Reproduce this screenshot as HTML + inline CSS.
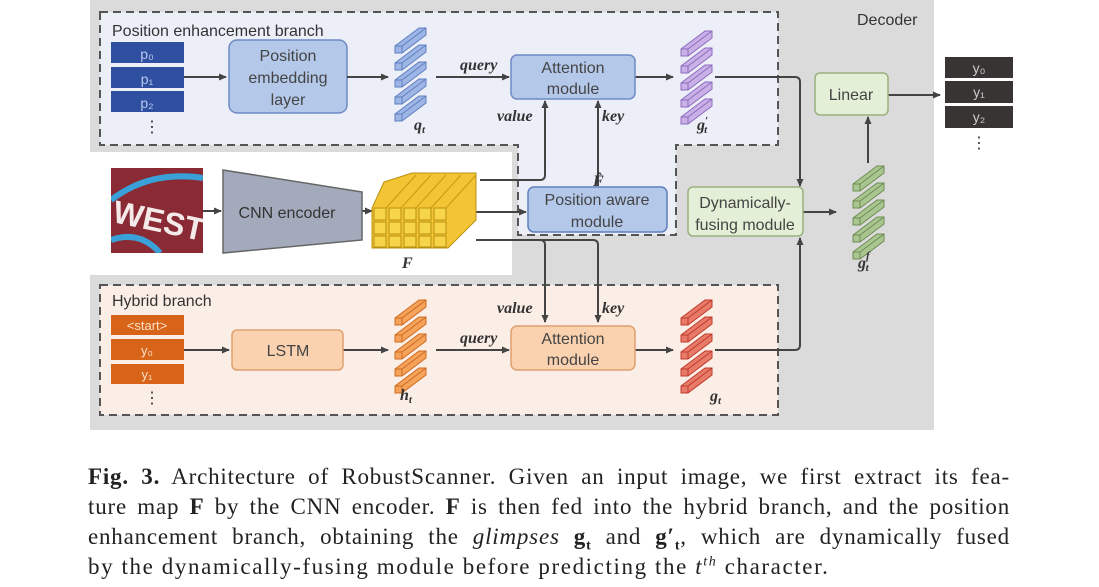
<!DOCTYPE html>
<html><head><meta charset="utf-8"><style>
body{margin:0;width:1099px;height:587px;background:#fff;overflow:hidden;position:relative;font-family:"Liberation Sans",sans-serif}
.cap{position:absolute;left:88px;width:922px;font-family:"Liberation Serif",serif;font-size:23px;letter-spacing:0.8px;line-height:30px;height:30px;color:#222;text-align:justify;text-align-last:justify;white-space:nowrap}
.cap.l{text-align-last:left;letter-spacing:1.6px}
sub,sup{font-size:14px;line-height:0}
</style></head><body>
<svg width="1099" height="587" style="position:absolute;left:0;top:0" font-family="Liberation Sans, sans-serif">
<defs>
<marker id="a" markerWidth="8" markerHeight="8" refX="7" refY="4" orient="auto" markerUnits="userSpaceOnUse"><path d="M0,0.5 L8,4 L0,7.5 Z" fill="#444"/></marker>
<g id="bar"><path d="M0,6 L24,-12 L31,-12 L31,-5 L7,13 L0,13 Z" /><path d="M0,6 L7,6 L7,13" fill="none"/><path d="M7,6 L31,-12" fill="none"/></g>
</defs>
<rect x="90" y="0" width="844" height="430" fill="#dcdbdc"/>
<rect x="90" y="152" width="422" height="123" fill="#fff"/>
<path d="M100,12 H778 V145 H676 V235 H518 V145 H100 Z" fill="#eceef8" stroke="#555" stroke-width="2" stroke-dasharray="8,5"/>
<text x="112" y="36" font-size="16" fill="#333">Position enhancement branch</text>
<text x="857" y="25" font-size="16" fill="#333">Decoder</text>
<rect x="100" y="285" width="678" height="130" fill="#fbeee6" stroke="#555" stroke-width="2" stroke-dasharray="8,5"/>
<text x="112" y="306" font-size="16" fill="#333">Hybrid branch</text>
<g fill="#2f4fa0"><rect x="111" y="42" width="73" height="21"/><rect x="111" y="67" width="73" height="21"/><rect x="111" y="91" width="73" height="21"/></g>
<g fill="#b8c8ee" font-size="14" text-anchor="middle"><text x="147" y="59">p₀</text><text x="147" y="84">p₁</text><text x="147" y="108">p₂</text></g>
<text x="152" y="132" font-size="16" text-anchor="middle" fill="#333">⋮</text>
<rect x="229" y="40" width="118" height="73" rx="8" fill="#b4c8ea" stroke="#6d8bc4" stroke-width="1.5"/>
<g font-size="16" fill="#444" text-anchor="middle"><text x="288" y="61">Position</text><text x="288" y="83">embedding</text><text x="288" y="105">layer</text></g>
<g stroke="#444" stroke-width="2" fill="none">
<line x1="184" y1="77" x2="226" y2="77" marker-end="url(#a)"/>
<line x1="347" y1="77" x2="388" y2="77" marker-end="url(#a)"/>
<line x1="436" y1="77" x2="509" y2="77" marker-end="url(#a)"/>
<line x1="635" y1="77" x2="673" y2="77" marker-end="url(#a)"/>
<path d="M715,77 H795 Q800,77 800,82 V186" marker-end="url(#a)"/>
<path d="M480,180 H540 Q545,180 545,175 V101" marker-end="url(#a)"/>
<line x1="598" y1="186" x2="598" y2="101" marker-end="url(#a)"/>
<line x1="476" y1="212" x2="526" y2="212" marker-end="url(#a)"/>
<path d="M476,240 H540 Q545,240 545,245 V322" marker-end="url(#a)"/>
<path d="M476,240 H593 Q598,240 598,245 V322" marker-end="url(#a)"/>
<line x1="203" y1="211" x2="221" y2="211" marker-end="url(#a)"/>
<line x1="362" y1="211" x2="372" y2="211" marker-end="url(#a)"/>
<line x1="184" y1="350" x2="229" y2="350" marker-end="url(#a)"/>
<line x1="343" y1="350" x2="388" y2="350" marker-end="url(#a)"/>
<line x1="436" y1="350" x2="509" y2="350" marker-end="url(#a)"/>
<line x1="635" y1="350" x2="673" y2="350" marker-end="url(#a)"/>
<path d="M715,350 H795 Q800,350 800,345 V238" marker-end="url(#a)"/>
<line x1="803" y1="212" x2="836" y2="212" marker-end="url(#a)"/>
<line x1="868" y1="163" x2="868" y2="117" marker-end="url(#a)"/>
<line x1="888" y1="95" x2="940" y2="95" marker-end="url(#a)"/>
</g>
<g fill="#9db6e6" stroke="#5e7fc0" stroke-width="1"><use href="#bar" x="395" y="40"/><use href="#bar" x="395" y="57"/><use href="#bar" x="395" y="74"/><use href="#bar" x="395" y="91"/><use href="#bar" x="395" y="108"/></g>
<g fill="#c9b0e6" stroke="#8d6cbf" stroke-width="1"><use href="#bar" x="681" y="43"/><use href="#bar" x="681" y="60"/><use href="#bar" x="681" y="77"/><use href="#bar" x="681" y="94"/><use href="#bar" x="681" y="111"/></g>
<g fill="#f5a25a" stroke="#d06b20" stroke-width="1"><use href="#bar" x="395" y="312"/><use href="#bar" x="395" y="329"/><use href="#bar" x="395" y="346"/><use href="#bar" x="395" y="363"/><use href="#bar" x="395" y="380"/></g>
<g fill="#e87a6a" stroke="#c03b2b" stroke-width="1"><use href="#bar" x="681" y="312"/><use href="#bar" x="681" y="329"/><use href="#bar" x="681" y="346"/><use href="#bar" x="681" y="363"/><use href="#bar" x="681" y="380"/></g>
<g fill="#aac690" stroke="#6e8c52" stroke-width="1"><use href="#bar" x="853" y="178"/><use href="#bar" x="853" y="195"/><use href="#bar" x="853" y="212"/><use href="#bar" x="853" y="229"/><use href="#bar" x="853" y="246"/></g>
<g font-family="Liberation Serif, serif" font-style="italic" font-weight="bold" font-size="16" fill="#333">
<text x="414" y="130">q<tspan font-size="11" dy="3">t</tspan></text>
<text x="697" y="130">g<tspan font-size="11" dy="-6">′</tspan><tspan font-size="11" dx="-4" dy="9">t</tspan></text>
<text x="460" y="70">query</text><text x="460" y="343">query</text>
<text x="497" y="121">value</text><text x="602" y="121">key</text>
<text x="497" y="313">value</text><text x="602" y="313">key</text>
<text x="593" y="186">F̂</text><text x="402" y="268">F</text>
<text x="400" y="400">h<tspan font-size="11" dy="3">t</tspan></text>
<text x="710" y="401">g<tspan font-size="11" dy="3">t</tspan></text>
<text x="858" y="268">g<tspan font-size="11" dy="-9">f</tspan><tspan font-size="11" dx="-4" dy="12">t</tspan></text>
</g>
<rect x="511" y="55" width="124" height="44" rx="6" fill="#b4c8ea" stroke="#6d8bc4" stroke-width="1.5"/>
<g font-size="16" fill="#444" text-anchor="middle"><text x="573" y="73">Attention</text><text x="573" y="94">module</text></g>
<rect x="528" y="187" width="139" height="45" rx="6" fill="#b4c8ea" stroke="#5e7fc0" stroke-width="1.5"/>
<g font-size="16" fill="#444" text-anchor="middle"><text x="597" y="205">Position aware</text><text x="597" y="227">module</text></g>
<rect x="688" y="187" width="115" height="49" rx="5" fill="#e3efd6" stroke="#9ab07e" stroke-width="1.5"/>
<g font-size="16" fill="#444" text-anchor="middle"><text x="745" y="208">Dynamically-</text><text x="745" y="230">fusing module</text></g>
<rect x="815" y="73" width="73" height="42" rx="5" fill="#e3efd6" stroke="#9ab07e" stroke-width="1.5"/>
<text x="851" y="100" font-size="16" fill="#444" text-anchor="middle">Linear</text>
<g fill="#383434"><rect x="945" y="57" width="68" height="21"/><rect x="945" y="81" width="68" height="22"/><rect x="945" y="106" width="68" height="22"/></g>
<g fill="#ccc" font-size="14" text-anchor="middle"><text x="979" y="73">y₀</text><text x="979" y="97">y₁</text><text x="979" y="122">y₂</text></g>
<text x="979" y="148" font-size="16" text-anchor="middle" fill="#333">⋮</text>
<svg x="111" y="168" width="92" height="85"><rect width="92" height="85" fill="#8a2a34"/>
<path d="M0,32 Q39,2 92,10" stroke="#3aa0d8" stroke-width="6" fill="none"/>
<path d="M0,72 Q29,62 49,85" stroke="#3aa0d8" stroke-width="6" fill="none"/>
<text x="2" y="62" font-size="32" font-weight="bold" fill="#f4eaea" transform="rotate(12 40 50)">WEST</text></svg>
<path d="M223,170 L362,192 L362,240 L223,253 Z" fill="#a3aabb" stroke="#666" stroke-width="1.5"/>
<text x="287" y="218" font-size="16" fill="#333" text-anchor="middle">CNN encoder</text>
<path d="M384,182 L412,173 L476,173 L476,220 L448,248 L372,248 L372,208 Z" fill="#f3c534" stroke="#b89010" stroke-width="1"/>
<g stroke="#c89a10" stroke-width="1"><line x1="386" y1="208" x2="416" y2="175"/><line x1="401" y1="208" x2="431" y2="175"/><line x1="416" y1="208" x2="446" y2="175"/><line x1="431" y1="208" x2="461" y2="175"/><line x1="446" y1="208" x2="476" y2="175"/></g>
<g stroke="#b89010" stroke-width="1" fill="#f7d54a">
<rect x="374" y="208" width="12" height="12"/><rect x="389" y="208" width="12" height="12"/><rect x="404" y="208" width="12" height="12"/><rect x="419" y="208" width="12" height="12"/><rect x="434" y="208" width="12" height="12"/>
<rect x="374" y="222" width="12" height="12"/><rect x="389" y="222" width="12" height="12"/><rect x="404" y="222" width="12" height="12"/><rect x="419" y="222" width="12" height="12"/><rect x="434" y="222" width="12" height="12"/>
<rect x="374" y="236" width="12" height="11"/><rect x="389" y="236" width="12" height="11"/><rect x="404" y="236" width="12" height="11"/><rect x="419" y="236" width="12" height="11"/><rect x="434" y="236" width="12" height="11"/>
</g>
<g fill="#d8641a"><rect x="111" y="315" width="73" height="20"/><rect x="111" y="339" width="73" height="21"/><rect x="111" y="364" width="73" height="20"/></g>
<g fill="#fbe0c8" font-size="13" text-anchor="middle"><text x="147" y="330">&lt;start&gt;</text><text x="147" y="355">y₀</text><text x="147" y="379">y₁</text></g>
<text x="152" y="403" font-size="16" text-anchor="middle" fill="#333">⋮</text>
<rect x="232" y="330" width="111" height="40" rx="5" fill="#fad2b0" stroke="#e0a070" stroke-width="1.5"/>
<text x="288" y="356" font-size="16" fill="#444" text-anchor="middle">LSTM</text>
<rect x="511" y="326" width="124" height="44" rx="6" fill="#fad2b0" stroke="#e0a070" stroke-width="1.5"/>
<g font-size="16" fill="#444" text-anchor="middle"><text x="573" y="344">Attention</text><text x="573" y="365">module</text></g>
</svg>
<div class="cap" style="top:462px"><b>Fig. 3.</b> Architecture of RobustScanner. Given an input image, we first extract its fea-</div>
<div class="cap" style="top:492px">ture map <b>F</b> by the CNN encoder. <b>F</b> is then fed into the hybrid branch, and the position</div>
<div class="cap" style="top:522px">enhancement branch, obtaining the <i>glimpses</i> <b>g<sub>t</sub></b> and <b>g′<sub>t</sub></b>, which are dynamically fused</div>
<div class="cap l" style="top:552px">by the dynamically-fusing module before predicting the <i>t<sup>th</sup></i> character.</div>
</body></html>
